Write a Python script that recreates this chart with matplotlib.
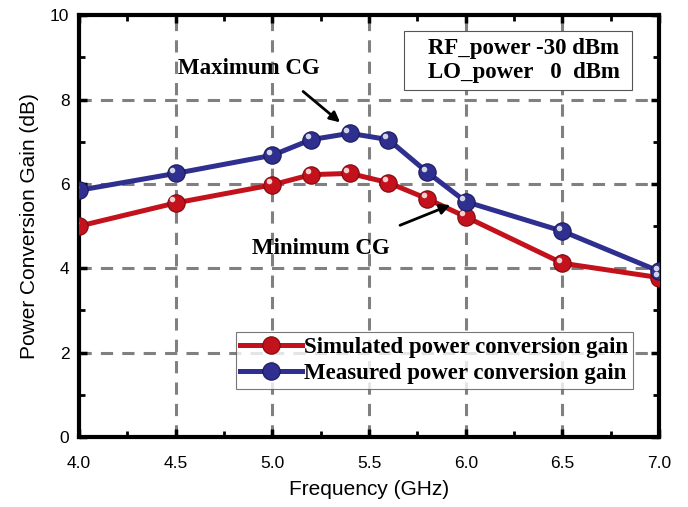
import numpy as np
import matplotlib
matplotlib.use("Agg")
import matplotlib.pyplot as plt
from matplotlib.patches import Rectangle
from matplotlib.transforms import ScaledTranslation

freq = [4.0, 4.5, 5.0, 5.2, 5.4, 5.6, 5.8, 6.0, 6.5, 7.0]
simulated = [5.0, 5.55, 5.98, 6.22, 6.25, 6.03, 5.65, 5.22, 4.12, 3.78]
measured = [5.85, 6.25, 6.68, 7.05, 7.2, 7.05, 6.28, 5.58, 4.88, 3.93]

red = "#c4121c"
blue = "#2e2f8f"
serif = "Liberation Serif"
sans = "Liberation Sans"

fig = plt.figure(figsize=(6.88, 5.07), dpi=100)
ax = fig.add_axes([0.115, 0.138, 0.843, 0.832])

for y, c, ec, lab in [(simulated, red, "#7a0a10", "Simulated power conversion gain"),
                      (measured, blue, "#1a1a5a", "Measured power conversion gain")]:
    ax.plot(freq, y, color=c, lw=3.6, marker="o", ms=12.5, mfc=c, mec=ec, mew=0.8,
            label=lab, zorder=3)
    # little white highlight so the markers look like spheres
    off = ScaledTranslation(-2.5 / 72, 2.5 / 72, fig.dpi_scale_trans)
    ax.plot(freq, y, ls="", marker="o", ms=4, mfc="white", mec="none", alpha=0.8,
            transform=ax.transData + off, zorder=4)

ax.set_xlim(4.0, 7.0)
ax.set_ylim(0, 10)
ax.set_xticks(np.arange(4.0, 7.01, 0.5))
ax.set_xticks(np.arange(4.25, 7.0, 0.5), minor=True)
ax.set_yticks(np.arange(0, 10.1, 2))
ax.set_yticks(np.arange(1, 10, 2), minor=True)
ax.set_xticklabels(["4.0", "4.5", "5.0", "5.5", "6.0", "6.5", "7.0"])
ax.tick_params(which="both", direction="in", top=True, right=True, labelsize=12.5,
               labelfontfamily=sans)
ax.tick_params(axis="x", which="major", pad=14)
ax.tick_params(axis="y", which="major", pad=7)
ax.tick_params(which="major", length=6, width=2.5)
ax.tick_params(which="minor", length=4, width=2)
for s in ax.spines.values():
    s.set_linewidth(3)
ax.grid(True, which="major", color="#808080", ls=(0, (4, 3)), lw=2.2)

ax.set_xlabel("Frequency (GHz)", fontsize=15, family=sans, labelpad=6)
ax.set_ylabel("Power Conversion Gain (dB)", fontsize=15, family=sans, labelpad=8)

# condition box
ax.add_patch(Rectangle((0.560, 0.822), 0.393, 0.140, transform=ax.transAxes,
                       fc="white", ec="#555555", lw=0.8, zorder=5))
ax.text(0.767, 0.892, "RF_power -30 dBm\nLO_power   0  dBm", transform=ax.transAxes,
        ha="center", va="center", fontsize=16.5, fontweight="bold", family=serif,
        linespacing=1.2, zorder=6)

ax.annotate("Maximum CG", xy=(5.35, 7.46), xytext=(4.88, 8.74), fontsize=16.5,
            fontweight="bold", family=serif, ha="center", va="center",
            arrowprops=dict(arrowstyle="-|>", color="black", lw=2,
                            shrinkA=0, shrinkB=0, mutation_scale=15,
                            patchA=None, relpos=(0.88, -0.6)))
ax.annotate("", xy=(5.92, 5.50), xytext=(5.66, 5.02),
            arrowprops=dict(arrowstyle="-|>", color="black", lw=2, shrinkA=0, shrinkB=0,
                            mutation_scale=15))
ax.text(5.25, 4.46, "Minimum CG", fontsize=16.5, fontweight="bold", family=serif,
        ha="center", va="center")

leg = ax.legend(loc="lower right", bbox_to_anchor=(0.955, 0.114),
                prop={"family": serif, "weight": "bold", "size": 16.5},
                frameon=True, fancybox=False, edgecolor="#555555", handlelength=2.7,
                handletextpad=0.1, borderpad=0.2, labelspacing=0.25, borderaxespad=0)
leg.get_frame().set_linewidth(0.8)
leg.set_zorder(6)

fig.savefig("out.png", dpi=100)
